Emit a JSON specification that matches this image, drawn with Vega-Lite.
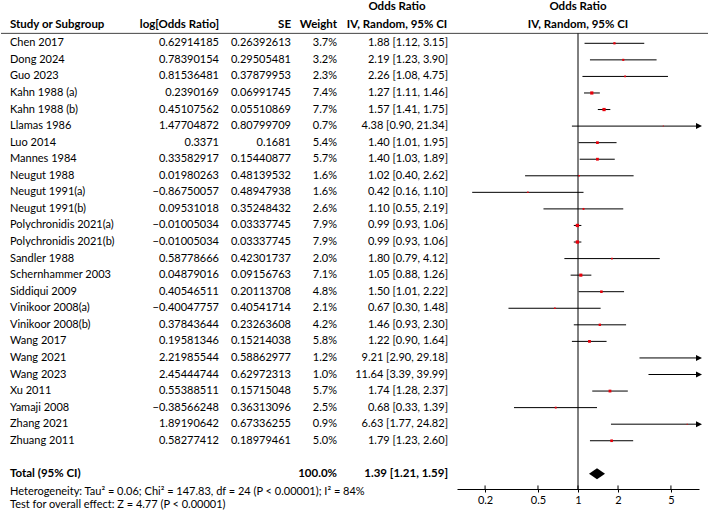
{
  "$schema": "https://vega.github.io/schema/vega-lite/v6.json",
  "padding": 0,
  "spacing": 0,
  "bounds": "flush",
  "background": "white",
  "config": {
    "view": {"stroke": null},
    "text": {"font": "Lato", "fontSize": 11, "baseline": "middle", "color": "#000"},
    "axis": {"labelFont": "Lato"}
  },
  "datasets": {
    "studies": [
      {"study":"Chen 2017","row":0,"logor":"0.62914185","se":"0.26392613","wt":"3.7%","w":3.7,"ortxt":"1.88 [1.12, 3.15]","or":1.88,"lo":1.12,"hi":3.15},
      {"study":"Dong 2024","row":1,"logor":"0.78390154","se":"0.29505481","wt":"3.2%","w":3.2,"ortxt":"2.19 [1.23, 3.90]","or":2.19,"lo":1.23,"hi":3.90},
      {"study":"Guo 2023","row":2,"logor":"0.81536481","se":"0.37879953","wt":"2.3%","w":2.3,"ortxt":"2.26 [1.08, 4.75]","or":2.26,"lo":1.08,"hi":4.75},
      {"study":"Kahn 1988 (a)","row":3,"logor":"0.2390169","se":"0.06991745","wt":"7.4%","w":7.4,"ortxt":"1.27 [1.11, 1.46]","or":1.27,"lo":1.11,"hi":1.46},
      {"study":"Kahn 1988 (b)","row":4,"logor":"0.45107562","se":"0.05510869","wt":"7.7%","w":7.7,"ortxt":"1.57 [1.41, 1.75]","or":1.57,"lo":1.41,"hi":1.75},
      {"study":"Llamas 1986","row":5,"logor":"1.47704872","se":"0.80799709","wt":"0.7%","w":0.7,"ortxt":"4.38 [0.90, 21.34]","or":4.38,"lo":0.90,"hi":21.34},
      {"study":"Luo 2014","row":6,"logor":"0.3371","se":"0.1681","wt":"5.4%","w":5.4,"ortxt":"1.40 [1.01, 1.95]","or":1.40,"lo":1.01,"hi":1.95},
      {"study":"Mannes 1984","row":7,"logor":"0.33582917","se":"0.15440877","wt":"5.7%","w":5.7,"ortxt":"1.40 [1.03, 1.89]","or":1.40,"lo":1.03,"hi":1.89},
      {"study":"Neugut 1988","row":8,"logor":"0.01980263","se":"0.48139532","wt":"1.6%","w":1.6,"ortxt":"1.02 [0.40, 2.62]","or":1.02,"lo":0.40,"hi":2.62},
      {"study":"Neugut 1991(a)","row":9,"logor":"−0.86750057","se":"0.48947938","wt":"1.6%","w":1.6,"ortxt":"0.42 [0.16, 1.10]","or":0.42,"lo":0.16,"hi":1.10},
      {"study":"Neugut 1991(b)","row":10,"logor":"0.09531018","se":"0.35248432","wt":"2.6%","w":2.6,"ortxt":"1.10 [0.55, 2.19]","or":1.10,"lo":0.55,"hi":2.19},
      {"study":"Polychronidis 2021(a)","row":11,"logor":"−0.01005034","se":"0.03337745","wt":"7.9%","w":7.9,"ortxt":"0.99 [0.93, 1.06]","or":0.99,"lo":0.93,"hi":1.06},
      {"study":"Polychronidis 2021(b)","row":12,"logor":"−0.01005034","se":"0.03337745","wt":"7.9%","w":7.9,"ortxt":"0.99 [0.93, 1.06]","or":0.99,"lo":0.93,"hi":1.06},
      {"study":"Sandler 1988","row":13,"logor":"0.58778666","se":"0.42301737","wt":"2.0%","w":2.0,"ortxt":"1.80 [0.79, 4.12]","or":1.80,"lo":0.79,"hi":4.12},
      {"study":"Schernhammer 2003","row":14,"logor":"0.04879016","se":"0.09156763","wt":"7.1%","w":7.1,"ortxt":"1.05 [0.88, 1.26]","or":1.05,"lo":0.88,"hi":1.26},
      {"study":"Siddiqui 2009","row":15,"logor":"0.40546511","se":"0.20113708","wt":"4.8%","w":4.8,"ortxt":"1.50 [1.01, 2.22]","or":1.50,"lo":1.01,"hi":2.22},
      {"study":"Vinikoor 2008(a)","row":16,"logor":"−0.40047757","se":"0.40541714","wt":"2.1%","w":2.1,"ortxt":"0.67 [0.30, 1.48]","or":0.67,"lo":0.30,"hi":1.48},
      {"study":"Vinikoor 2008(b)","row":17,"logor":"0.37843644","se":"0.23263608","wt":"4.2%","w":4.2,"ortxt":"1.46 [0.93, 2.30]","or":1.46,"lo":0.93,"hi":2.30},
      {"study":"Wang 2017","row":18,"logor":"0.19581346","se":"0.15214038","wt":"5.8%","w":5.8,"ortxt":"1.22 [0.90, 1.64]","or":1.22,"lo":0.90,"hi":1.64},
      {"study":"Wang 2021","row":19,"logor":"2.21985544","se":"0.58862977","wt":"1.2%","w":1.2,"ortxt":"9.21 [2.90, 29.18]","or":9.21,"lo":2.90,"hi":29.18},
      {"study":"Wang 2023","row":20,"logor":"2.45444744","se":"0.62972313","wt":"1.0%","w":1.0,"ortxt":"11.64 [3.39, 39.99]","or":11.64,"lo":3.39,"hi":39.99},
      {"study":"Xu 2011","row":21,"logor":"0.55388511","se":"0.15715048","wt":"5.7%","w":5.7,"ortxt":"1.74 [1.28, 2.37]","or":1.74,"lo":1.28,"hi":2.37},
      {"study":"Yamaji 2008","row":22,"logor":"−0.38566248","se":"0.36313096","wt":"2.5%","w":2.5,"ortxt":"0.68 [0.33, 1.39]","or":0.68,"lo":0.33,"hi":1.39},
      {"study":"Zhang 2021","row":23,"logor":"1.89190642","se":"0.67336255","wt":"0.9%","w":0.9,"ortxt":"6.63 [1.77, 24.82]","or":6.63,"lo":1.77,"hi":24.82},
      {"study":"Zhuang 2011","row":24,"logor":"0.58277412","se":"0.18979461","wt":"5.0%","w":5.0,"ortxt":"1.79 [1.23, 2.60]","or":1.79,"lo":1.23,"hi":2.60}
    ],
    "total": [
      {"label":"Total (95% CI)","row":26,"wt":"100.0%","ortxt":"1.39 [1.21, 1.59]","or":1.39,"lo":1.21,"hi":1.59}
    ],
    "notes": [
      {"text":"Heterogeneity: Tau² = 0.06; Chi² = 147.83, df = 24 (P < 0.00001); I² = 84%","row":27.08},
      {"text":"Test for overall effect: Z = 4.77 (P < 0.00001)","row":27.88}
    ],
    "headers": [
      {"col":"study","text":"Study or Subgroup","row":-1.1},
      {"col":"logor","text":"log[Odds Ratio]","row":-1.1},
      {"col":"se","text":"SE","row":-1.1},
      {"col":"weight","text":"Weight","row":-1.1},
      {"col":"or","text":"Odds Ratio","row":-2.17},
      {"col":"or","text":"IV, Random, 95% CI","row":-1.1},
      {"col":"plot","text":"Odds Ratio","row":-2.17},
      {"col":"plot","text":"IV, Random, 95% CI","row":-1.1}
    ],
    "hline": [{"row":-0.6}],
    "refline": [{"x":1,"top":-0.6,"bottom":26.93}],
    "ticks": [{"v":0.2},{"v":0.5},{"v":1},{"v":2},{"v":5}]
  },
  "hconcat": [
    {
      "width": 140, "height": 517,
      "layer": [
        {"data":{"name":"hline"},"mark":{"type":"rule","color":"#444","strokeWidth":1},
         "encoding":{"y":{"field":"row","type":"quantitative","scale":{"domain":[-2.615,28.605],"reverse":true,"nice":false,"zero":false},"axis":null}}},
        {"data":{"name":"headers"},"transform":[{"filter":"datum.col === 'study'"}],
         "mark":{"type":"text","align":"left","x":0,"dx":9,"fontWeight":"bold","fontSize":11.5},
         "encoding":{"y":{"field":"row","type":"quantitative","scale":{"domain":[-2.615,28.605],"reverse":true,"nice":false,"zero":false},"axis":null},"text":{"field":"text"}}},
        {"data":{"name":"studies"},
         "mark":{"type":"text","align":"left","x":0,"dx":9},
         "encoding":{"y":{"field":"row","type":"quantitative","scale":{"domain":[-2.615,28.605],"reverse":true,"nice":false,"zero":false},"axis":null},"text":{"field":"study"}}},
        {"data":{"name":"total"},
         "mark":{"type":"text","align":"left","x":0,"dx":9,"fontWeight":"bold","fontSize":11.5},
         "encoding":{"y":{"field":"row","type":"quantitative","scale":{"domain":[-2.615,28.605],"reverse":true,"nice":false,"zero":false},"axis":null},"text":{"field":"label"}}},
        {"data":{"name":"notes"},
         "mark":{"type":"text","align":"left","x":0,"dx":9},
         "encoding":{"y":{"field":"row","type":"quantitative","scale":{"domain":[-2.615,28.605],"reverse":true,"nice":false,"zero":false},"axis":null},"text":{"field":"text"}}}
      ]
    },
    {
      "width": 78, "height": 517,
      "layer": [
        {"data":{"name":"hline"},"mark":{"type":"rule","color":"#444","strokeWidth":1},
         "encoding":{"y":{"field":"row","type":"quantitative","scale":{"domain":[-2.615,28.605],"reverse":true,"nice":false,"zero":false},"axis":null}}},
        {"data":{"name":"headers"},"transform":[{"filter":"datum.col === 'logor'"}],
         "mark":{"type":"text","align":"right","x":"width","fontWeight":"bold","fontSize":11.5},
         "encoding":{"y":{"field":"row","type":"quantitative","scale":{"domain":[-2.615,28.605],"reverse":true,"nice":false,"zero":false},"axis":null},"text":{"field":"text"}}},
        {"data":{"name":"studies"},
         "mark":{"type":"text","align":"right","x":"width"},
         "encoding":{"y":{"field":"row","type":"quantitative","scale":{"domain":[-2.615,28.605],"reverse":true,"nice":false,"zero":false},"axis":null},"text":{"field":"logor"}}}
      ]
    },
    {
      "width": 72, "height": 517,
      "layer": [
        {"data":{"name":"hline"},"mark":{"type":"rule","color":"#444","strokeWidth":1},
         "encoding":{"y":{"field":"row","type":"quantitative","scale":{"domain":[-2.615,28.605],"reverse":true,"nice":false,"zero":false},"axis":null}}},
        {"data":{"name":"headers"},"transform":[{"filter":"datum.col === 'se'"}],
         "mark":{"type":"text","align":"right","x":"width","fontWeight":"bold","fontSize":11.5},
         "encoding":{"y":{"field":"row","type":"quantitative","scale":{"domain":[-2.615,28.605],"reverse":true,"nice":false,"zero":false},"axis":null},"text":{"field":"text"}}},
        {"data":{"name":"studies"},
         "mark":{"type":"text","align":"right","x":"width"},
         "encoding":{"y":{"field":"row","type":"quantitative","scale":{"domain":[-2.615,28.605],"reverse":true,"nice":false,"zero":false},"axis":null},"text":{"field":"se"}}}
      ]
    },
    {
      "width": 46, "height": 517,
      "layer": [
        {"data":{"name":"hline"},"mark":{"type":"rule","color":"#444","strokeWidth":1},
         "encoding":{"y":{"field":"row","type":"quantitative","scale":{"domain":[-2.615,28.605],"reverse":true,"nice":false,"zero":false},"axis":null}}},
        {"data":{"name":"headers"},"transform":[{"filter":"datum.col === 'weight'"}],
         "mark":{"type":"text","align":"right","x":"width","fontWeight":"bold","fontSize":11.5},
         "encoding":{"y":{"field":"row","type":"quantitative","scale":{"domain":[-2.615,28.605],"reverse":true,"nice":false,"zero":false},"axis":null},"text":{"field":"text"}}},
        {"data":{"name":"studies"},
         "mark":{"type":"text","align":"right","x":"width"},
         "encoding":{"y":{"field":"row","type":"quantitative","scale":{"domain":[-2.615,28.605],"reverse":true,"nice":false,"zero":false},"axis":null},"text":{"field":"wt"}}},
        {"data":{"name":"total"},
         "mark":{"type":"text","align":"right","x":"width","fontWeight":"bold","fontSize":11.5},
         "encoding":{"y":{"field":"row","type":"quantitative","scale":{"domain":[-2.615,28.605],"reverse":true,"nice":false,"zero":false},"axis":null},"text":{"field":"wt"}}}
      ]
    },
    {
      "width": 120, "height": 517,
      "layer": [
        {"data":{"name":"hline"},"mark":{"type":"rule","color":"#444","strokeWidth":1},
         "encoding":{"y":{"field":"row","type":"quantitative","scale":{"domain":[-2.615,28.605],"reverse":true,"nice":false,"zero":false},"axis":null}}},
        {"data":{"name":"headers"},"transform":[{"filter":"datum.col === 'or'"}],
         "mark":{"type":"text","align":"center","fontWeight":"bold","fontSize":11.5},
         "encoding":{"x":{"datum":0.5,"type":"quantitative","scale":{"domain":[0,1],"nice":false,"zero":false},"axis":null},
                     "y":{"field":"row","type":"quantitative","scale":{"domain":[-2.615,28.605],"reverse":true,"nice":false,"zero":false},"axis":null},"text":{"field":"text"}}},
        {"data":{"name":"studies"},
         "mark":{"type":"text","align":"right","x":"width","dx":-9},
         "encoding":{"y":{"field":"row","type":"quantitative","scale":{"domain":[-2.615,28.605],"reverse":true,"nice":false,"zero":false},"axis":null},"text":{"field":"ortxt"}}},
        {"data":{"name":"total"},
         "mark":{"type":"text","align":"right","x":"width","dx":-9,"fontWeight":"bold","fontSize":11.5},
         "encoding":{"y":{"field":"row","type":"quantitative","scale":{"domain":[-2.615,28.605],"reverse":true,"nice":false,"zero":false},"axis":null},"text":{"field":"ortxt"}}}
      ]
    },
    {
      "width": 242, "height": 517,
      "layer": [
        {"data":{"name":"hline"},"mark":{"type":"rule","color":"#444","strokeWidth":1},
         "encoding":{"y":{"field":"row","type":"quantitative","scale":{"domain":[-2.615,28.605],"reverse":true,"nice":false,"zero":false},"axis":null}}},
        {"data":{"name":"studies"},
         "mark":{"type":"rule","color":"#000","strokeWidth":1},
         "encoding":{
           "x":{"field":"lo","type":"quantitative","scale":{"type":"log","domain":[0.123,8.13],"clamp":true,"nice":false},
                "axis":{"values":[0.2,0.5,1,2,5],"format":"~g","title":null,"offset":-28,"tickSize":3,"labelPadding":2,"domainColor":"#000","tickColor":"#000","labelColor":"#000","labelFontSize":11,"grid":false,"labelFlush":false,"labelOverlap":false,"domainWidth":1,"tickWidth":1}},
           "x2":{"field":"hi"},
           "y":{"field":"row","type":"quantitative","scale":{"domain":[-2.615,28.605],"reverse":true,"nice":false,"zero":false},"axis":null}}},
        {"data":{"name":"refline"},
         "mark":{"type":"rule","color":"#000","strokeWidth":1},
         "encoding":{
           "x":{"field":"x","type":"quantitative"},
           "y":{"field":"top","type":"quantitative","scale":{"domain":[-2.615,28.605],"reverse":true,"nice":false,"zero":false},"axis":null},
           "y2":{"field":"bottom"}}},
        {"data":{"name":"ticks"},
         "mark":{"type":"rule","color":"#000","strokeWidth":1},
         "encoding":{
           "x":{"field":"v","type":"quantitative"},
           "y":{"datum":26.7,"type":"quantitative","scale":{"domain":[-2.615,28.605],"reverse":true,"nice":false,"zero":false},"axis":null},
           "y2":{"datum":26.93}}},
        {"data":{"name":"studies"},"transform":[{"filter":"datum.or < 8.13"}],
         "mark":{"type":"point","shape":"square","filled":true,"color":"#e8000b","opacity":1,"strokeWidth":0},
         "encoding":{
           "x":{"field":"or","type":"quantitative"},
           "y":{"field":"row","type":"quantitative","scale":{"domain":[-2.615,28.605],"reverse":true,"nice":false,"zero":false},"axis":null},
           "size":{"field":"w","type":"quantitative","scale":{"domain":[0,8],"range":[0,11]},"legend":null}}},
        {"data":{"name":"studies"},"transform":[{"filter":"datum.hi > 8.13"}],
         "mark":{"type":"point","shape":"M-1,-1L1,0L-1,1Z","filled":true,"color":"#000","opacity":1,"size":36,"dx":-2},
         "encoding":{
           "x":{"field":"hi","type":"quantitative"},
           "y":{"field":"row","type":"quantitative","scale":{"domain":[-2.615,28.605],"reverse":true,"nice":false,"zero":false},"axis":null}}},
        {"data":{"name":"total"},
         "mark":{"type":"point","shape":"M-1,0L0,-0.6875L1,0L0,0.6875Z","filled":true,"color":"#000","opacity":1,"size":256},
         "encoding":{
           "x":{"field":"or","type":"quantitative"},
           "y":{"field":"row","type":"quantitative","scale":{"domain":[-2.615,28.605],"reverse":true,"nice":false,"zero":false},"axis":null}}},
        {"data":{"name":"headers"},"transform":[{"filter":"datum.col === 'plot'"}],
         "mark":{"type":"text","align":"center","fontWeight":"bold","fontSize":11.5},
         "encoding":{
           "x":{"datum":1,"type":"quantitative"},
           "y":{"field":"row","type":"quantitative","scale":{"domain":[-2.615,28.605],"reverse":true,"nice":false,"zero":false},"axis":null},
           "text":{"field":"text"}}}
      ]
    },
    {
      "width": 10, "height": 517,
      "layer": [
        {"data":{"name":"hline"},"mark":{"type":"rule","color":"#444","strokeWidth":1},
         "encoding":{"y":{"field":"row","type":"quantitative","scale":{"domain":[-2.615,28.605],"reverse":true,"nice":false,"zero":false},"axis":null}}}
      ]
    }
  ]
}
